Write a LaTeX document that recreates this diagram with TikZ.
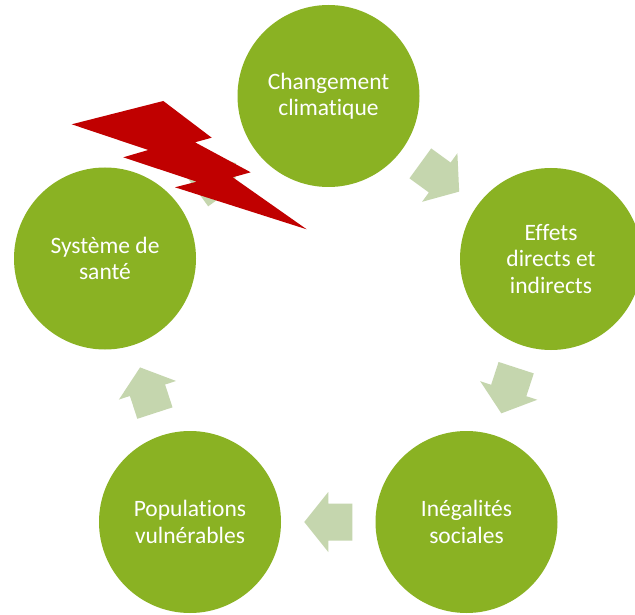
\documentclass[tikz,border=0pt]{standalone}
\usepackage{fontspec}
\setmainfont{Carlito}[Ligatures=NoCommon]
\usetikzlibrary{calc}
\definecolor{circgreen}{HTML}{8AB223}
\definecolor{arrgreen}{HTML}{C5D6AE}
\definecolor{boltred}{HTML}{C00000}
\tikzset{
  bubble/.style={circle, fill=circgreen, minimum size=182pt, inner sep=0pt,
    text=white, align=center, font=\fontsize{23.5}{26.5}\selectfont},
  blockarrow/.style={fill=arrgreen, draw=none}
}
\newcommand{\cyclearrow}[2]{%
  \begin{scope}[shift={(#1)}, rotate=#2]
    \fill[blockarrow] (24,0) -- (0,30) -- (0,18.5) -- (-24,18.5) -- (-24,-18.5) -- (0,-18.5) -- (0,-30) -- cycle;
  \end{scope}}
\begin{document}
\begin{tikzpicture}[x=1pt, y=-1pt]
\useasboundingbox (0,0) rectangle (635,615);
\fill[white] (0,0) rectangle (635,615);
\node[bubble] (cc) at (328.5,96) {Changement\\climatique};
\node[bubble] (ed) at (551,259) {Effets\\directs et\\indirects};
\node[bubble] (is) at (466.5,522) {Inégalités\\sociales};
\node[bubble] (pv) at (190,522) {Populations\\vulnérables};
\node[bubble] (ss) at (105,258.5) {Système de\\santé};
% arrows between consecutive circles
\cyclearrow{$(cc)!0.5!(ed)$}{-36}
\cyclearrow{$(ed)!0.5!(is)$}{-108}
\cyclearrow{$(is)!0.5!(pv)$}{180}
\cyclearrow{$(pv)!0.5!(ss)$}{108}
\cyclearrow{$(ss)!0.5!(cc)$}{36}
% lightning bolt
\fill[boltred] (71.7,124.3) -- (163.3,101) -- (211.7,137.7) -- (195,142.3) -- (250.7,172.3) -- (232.7,177.3) -- (306.7,229.3) -- (175,187.3) -- (196.7,181.7) -- (123.3,157.3) -- (148.3,150) -- cycle;
\end{tikzpicture}
\end{document}
